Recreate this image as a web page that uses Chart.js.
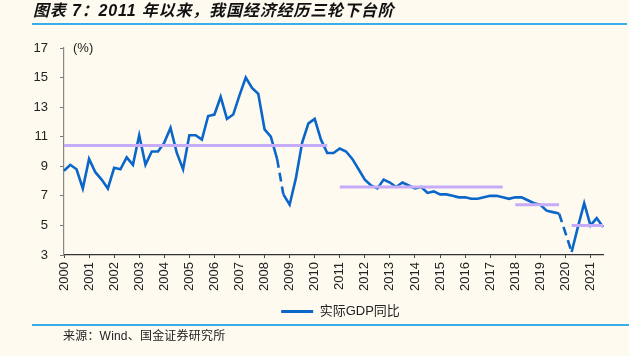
<!DOCTYPE html>
<html>
<head>
<meta charset="utf-8">
<script src="https://cdn.jsdelivr.net/npm/chart.js@4.4.0/dist/chart.umd.min.js"></script>
<style>
html,body{margin:0;padding:0;background:#FEFAF0;}
#wrap{position:relative;width:629px;height:356px;overflow:hidden;background:#FEFAF0;}
#title{position:absolute;left:33px;top:0px;line-height:22px;font-style:italic;font-weight:bold;font-size:16px;font-family:"Liberation Sans","Noto Sans CJK SC",sans-serif;color:#111;letter-spacing:0.85px;white-space:nowrap;}
#tline{position:absolute;left:32px;top:23px;width:595px;height:2px;background:#3AACE8;}
#sline{position:absolute;left:32px;top:324px;width:597px;height:2px;background:#3AACE8;}
#src{position:absolute;left:63px;top:328px;line-height:16px;font-size:12px;font-family:"Liberation Sans","Noto Sans CJK SC",sans-serif;color:#222;white-space:nowrap;letter-spacing:0.2px;}
#unit{position:absolute;left:73px;top:40px;line-height:16px;font-size:13px;font-family:"Liberation Sans",Arial,sans-serif;color:#222;}
canvas{position:absolute;left:0;top:0;}
</style>
</head>
<body>
<div id="wrap">
<canvas id="c" width="629" height="356"></canvas>
<div id="title">图表 7：2011 年以来，我国经济经历三轮下台阶</div>
<div id="tline"></div>
<div id="unit">(%)</div>
<div id="sline"></div>
<div id="src">来源：Wind、国金证券研究所</div>
</div>
<script>
// ---- data ----
const years = ["2000","2001","2002","2003","2004","2005","2006","2007","2008","2009","2010",
               "2011","2012","2013","2014","2015","2016","2017","2018","2019","2020","2021"];
const quarters = ["Q1","Q2","Q3","Q4"];
const lastQuarter = "2021Q3";
const seriesName = "实际GDP同比";
const gdp = [
  8.7, 9.1, 8.8, 7.5,
  9.5, 8.6, 8.1, 7.5,
  8.9, 8.8, 9.6, 9.1,
  11.1, 9.1, 10.0, 10.0,
  10.6, 11.6, 9.9, 8.8,
  11.1, 11.1, 10.8, 12.4,
  12.5, 13.7, 12.2, 12.5,
  13.8, 15.0, 14.3, 13.9,
  11.5, 11.0, 9.5, 7.1,
  6.4, 8.2, 10.6, 11.9,
  12.2, 10.8, 9.9, 9.9,
  10.2, 10.0, 9.5, 8.8,
  8.1, 7.7, 7.5, 8.1,
  7.9, 7.6, 7.9, 7.7,
  7.5, 7.6, 7.2, 7.3,
  7.1, 7.1, 7.0, 6.9,
  6.9, 6.8, 6.8, 6.9,
  7.0, 7.0, 6.9, 6.8,
  6.9, 6.9, 6.7, 6.5,
  6.4, 6.0, 5.9, 5.8,
  null, 3.2, 4.9, 6.5,
  5.0, 5.5, 4.9
];
// dashed connections start at these quarters
const dashedFrom = ["2008Q3", "2019Q4"];
// period averages
const avgStart = ["2000Q1", "2011Q1", "2018Q1", "2020Q2"];
const avgEnd   = ["2010Q3", "2017Q3", "2019Q4", "2021Q3"];
const avgValue = [10.4, 7.6, 6.4, 5.0];
const yTicks = [3, 5, 7, 9, 11, 13, 15, 17];

// ---- build ----
const labels = [];
for (const y of years) for (const q of quarters) {
  if (labels.length && labels[labels.length-1] === lastQuarter) break;
  labels.push(y + q);
}
const avgData = labels.map(() => null);
avgStart.forEach((s, k) => {
  const a = labels.indexOf(s), b = labels.indexOf(avgEnd[k]);
  for (let i = a; i <= b; i++) avgData[i] = avgValue[k];
});
const dashIdx = dashedFrom.map(l => labels.indexOf(l));
function segStart(p1) {
  let j = p1 - 1;
  while (j > 0 && gdp[j] == null) j--;
  return j;
}

const BLUE = '#0A66C8';
const PURPLE = '#C6ABF8';

Chart.defaults.font.family = '"Liberation Sans", Arial, "Noto Sans CJK SC", sans-serif';
Chart.defaults.font.size = 13;
Chart.defaults.color = '#222';

const shiftLegend = {
  id: 'shiftLegend',
  afterLayout(chart) {
    if (chart.legend) { chart.legend.left += 39; chart.legend.right += 39; }
  }
};

new Chart(document.getElementById('c'), {
  type: 'line',
  data: {
    labels: labels,
    datasets: [
      {
        label: '平均',
        data: avgData,
        borderColor: PURPLE,
        backgroundColor: PURPLE,
        borderWidth: 3,
        pointRadius: 0,
        spanGaps: false,
        tension: 0
      },
      {
        label: seriesName,
        data: gdp,
        borderColor: BLUE,
        backgroundColor: BLUE,
        borderWidth: 2.6,
        pointRadius: 0,
        spanGaps: true,
        tension: 0,
        segment: {
          borderDash: ctx => dashIdx.includes(segStart(ctx.p1DataIndex)) ? [9, 5] : undefined
        }
      }
    ]
  },
  plugins: [shiftLegend],
  options: {
    responsive: false,
    animation: false,
    devicePixelRatio: 1,
    layout: { padding: { left: 0, top: 48, right: 26, bottom: 28 } },
    plugins: {
      tooltip: { enabled: false },
      legend: {
        display: true,
        position: 'bottom',
        labels: {
          boxWidth: 32,
          boxHeight: 3,
          padding: 10,
          font: { size: 13 },
          color: '#222',
          generateLabels: (chart) => {
            const items = Chart.defaults.plugins.legend.labels.generateLabels(chart);
            return items.filter(it => it.datasetIndex === 1).map(it => Object.assign(it, { lineWidth: 0 }));
          }
        }
      }
    },
    scales: {
      x: {
        type: 'category',
        offset: false,
        afterBuildTicks: (scale) => { scale.ticks = scale.ticks.filter(t => labels[t.value].endsWith('Q1')); },
        afterFit: (scale) => { scale.height = 40; },
        ticks: {
          autoSkip: false,
          minRotation: 90,
          maxRotation: 90,
          padding: 4,
          font: { size: 13 },
          color: '#222',
          callback: function (v) { return this.getLabelForValue(v).slice(0, 4); }
        },
        grid: { display: true, drawOnChartArea: false, drawTicks: true, tickLength: 3, color: '#444', lineWidth: 1 },
        border: { display: true, color: '#333', width: 1.2 }
      },
      y: {
        min: 3,
        max: 17,
        afterBuildTicks: (scale) => { scale.ticks = yTicks.map(v => ({ value: v })); },
        afterFit: (scale) => { scale.width = 64; },
        ticks: { padding: 12, font: { size: 13 }, color: '#222' },
        grid: { display: true, drawOnChartArea: false, drawTicks: true, tickLength: 4, color: '#777', lineWidth: 1 },
        border: { display: true, color: '#888', width: 1.2 }
      }
    }
  }
});
</script>
</body>
</html>
